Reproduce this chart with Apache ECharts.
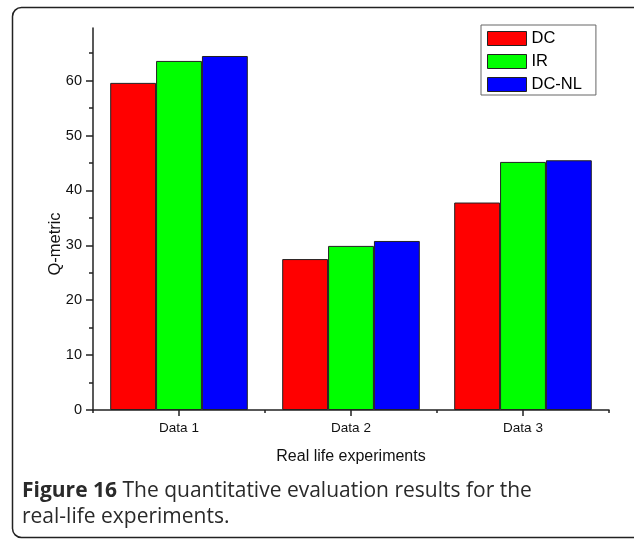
<!DOCTYPE html>
<html>
<head>
<meta charset="utf-8">
<script src="https://cdn.jsdelivr.net/npm/echarts@6/dist/echarts.min.js"></script>
<style>
  html, body { margin: 0; padding: 0; background: #fff; }
  #chart { width: 634px; height: 540px; }
</style>
</head>
<body>
<div id="chart"></div>
<script>
const categories = ['Data 1', 'Data 2', 'Data 3'];
const seriesNames = ['DC', 'IR', 'DC-NL'];
const dcValues = [59.6, 27.5, 37.8];
const irValues = [63.6, 29.9, 45.2];
const dcnlValues = [64.5, 30.8, 45.5];
const yTickValues = [0, 10, 20, 30, 40, 50, 60];
const yMax = 69.6;
const xAxisTitle = 'Real life experiments';
const yAxisTitle = 'Q-metric';
const captionBold = 'Figure 16';
const captionLine1 = ' The quantitative evaluation results for the';
const captionLine2 = 'real-life experiments.';

const colors = ['#ff0000', '#00ff00', '#0000ff'];
const valuesList = [dcValues, irValues, dcnlValues];
const axisFont = 'Liberation Sans, Arial, sans-serif';
const captionFont = 'Open Sans, Noto Sans, sans-serif';

const chart = echarts.init(document.getElementById('chart'), null, { renderer: 'canvas' });

const option = {
  animation: false,
  backgroundColor: '#ffffff',
  grid: { left: 93, right: 25, top: 28, bottom: 130, containLabel: false },
  legend: {
    orient: 'vertical',
    left: 481,
    top: 25,
    padding: [5, 14, 2, 6],
    itemGap: 6,
    itemWidth: 39,
    itemHeight: 14,
    borderColor: '#666',
    borderWidth: 1,
    icon: 'rect',
    itemStyle: { borderColor: '#222', borderWidth: 1 },
    textStyle: { fontFamily: axisFont, fontSize: 16.5, color: '#000', lineHeight: 16 },
    data: seriesNames
  },
  xAxis: [
    {
      type: 'category',
      data: categories,
      boundaryGap: true,
      position: 'bottom',
      axisLine: { show: true, onZero: false, lineStyle: { color: '#222', width: 1.5 } },
      axisTick: { show: true, alignWithLabel: true, length: 6, lineStyle: { color: '#222', width: 1.5 } },
      axisLabel: { fontFamily: axisFont, fontSize: 13.5, color: '#111', margin: 11 },
      name: xAxisTitle,
      nameLocation: 'middle',
      nameGap: 39,
      nameMoveOverlap: false,
      nameTextStyle: { fontFamily: axisFont, fontSize: 16, color: '#111' },
      splitLine: { show: false }
    },
    {
      type: 'category',
      data: categories,
      boundaryGap: true,
      position: 'bottom',
      axisLine: { show: false },
      axisTick: { show: true, length: 3, lineStyle: { color: '#222', width: 1.5 } },
      axisLabel: { show: false },
      splitLine: { show: false }
    }
  ],
  yAxis: {
    type: 'value',
    min: 0,
    max: yMax,
    interval: 10,
    axisLine: { show: true, lineStyle: { color: '#222', width: 1.5 } },
    axisTick: { show: true, length: 7, customValues: yTickValues, lineStyle: { color: '#222', width: 1.5 } },
    minorTick: { show: true, splitNumber: 2, length: 4, lineStyle: { color: '#222', width: 1.5 } },
    axisLabel: { fontFamily: axisFont, fontSize: 14.5, color: '#111', margin: 11, customValues: yTickValues },
    splitLine: { show: false },
    name: yAxisTitle,
    nameLocation: 'middle',
    nameGap: 29,
    nameMoveOverlap: false,
    nameTextStyle: { fontFamily: axisFont, fontSize: 16.5, color: '#111', padding: [0, 50, 0, 0] }
  },
  series: seriesNames.map((name, i) => ({
    name: name,
    type: 'bar',
    xAxisIndex: 0,
    data: valuesList[i],
    barGap: '0%',
    barCategoryGap: '20%',
    itemStyle: { color: colors[i], borderColor: '#222', borderWidth: 1 }
  })),
  graphic: [
    {
      type: 'rect',
      shape: { x: 12.5, y: 7.5, width: 640, height: 530, r: 9 },
      style: { fill: 'none', stroke: '#222', lineWidth: 1.5 },
      silent: true,
      z: 100
    },
    {
      type: 'text',
      left: 22,
      top: 481,
      style: {
        text: '{b|' + captionBold + '}{r|' + captionLine1 + '}',
        rich: {
          b: { fontFamily: captionFont, fontWeight: 'bold', fontSize: 21, fill: '#2a2a2a' },
          r: { fontFamily: captionFont, fontSize: 21, fill: '#2a2a2a' }
        }
      },
      z: 100
    },
    {
      type: 'text',
      left: 22,
      top: 507,
      style: {
        text: captionLine2,
        fontFamily: captionFont,
        fontSize: 21,
        fill: '#2a2a2a'
      },
      z: 100
    }
  ]
};

chart.setOption(option);
</script>
</body>
</html>
